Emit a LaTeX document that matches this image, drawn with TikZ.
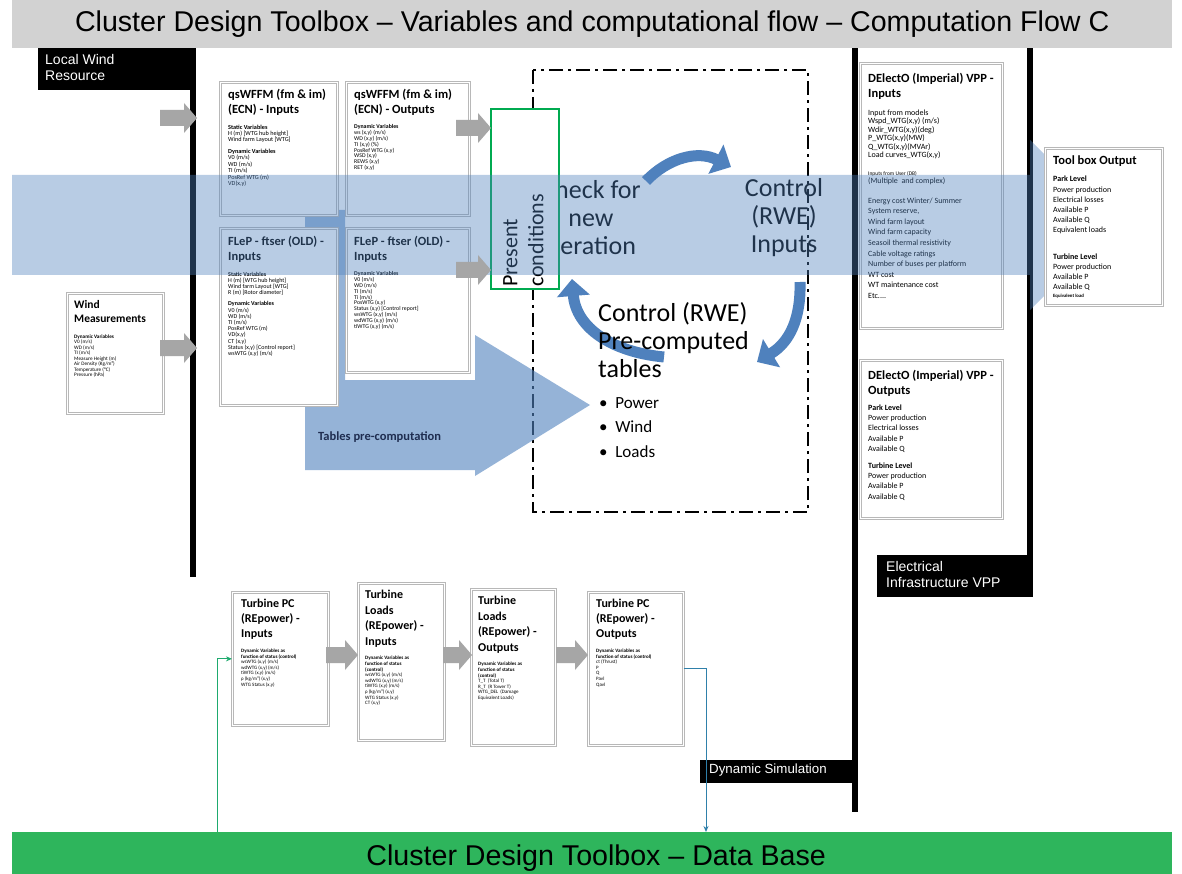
\documentclass[tikz,border=0pt]{standalone}
\usepackage{fontspec}
\setmainfont{Carlito}
\newfontfamily\arialike{Liberation Sans}
\usetikzlibrary{arrows.meta,calc}
\newcommand{\fsz}[2]{\fontsize{#1}{#2}\selectfont}
% gray block arrow: left x, centre y, length
\newcommand{\blockarrow}[3]{%
  \fill[black!35] ({#1},{#2-8}) -- ({#1+#3-13},{#2-8}) -- ({#1+#3-13},{#2-15}) -- ({#1+#3},{#2})
    -- ({#1+#3-13},{#2+15}) -- ({#1+#3-13},{#2+8}) -- ({#1},{#2+8}) -- cycle;}
\definecolor{bandblue}{RGB}{79,129,189}
\definecolor{dbgreen}{RGB}{46,181,92}
\definecolor{condgreen}{RGB}{0,170,80}
\definecolor{linkteal}{RGB}{47,128,170}
\definecolor{linkgreen}{RGB}{30,170,110}
\definecolor{bannergray}{RGB}{210,210,210}
\definecolor{navytext}{RGB}{31,45,80}
\begin{document}
\begin{tikzpicture}[x=1pt,y=-1pt,
  databox/.style={draw=black!28, double=white, double distance=1.3pt, line width=0.7pt,
                  fill=white, inner sep=0pt, anchor=north west},
  boxtitle/.style={anchor=north west, inner sep=0pt, align=left, font=\fsz{12.5}{15}\bfseries},
  boxbody/.style={anchor=north west, inner sep=0pt, align=left, font=\fsz{6.2}{6.4}},
  blacklabel/.style={fill=black, inner sep=0pt, anchor=north west},
  labeltext/.style={anchor=north west, inner sep=0pt, align=left, text=white, font=\arialike\fsz{14}{16.5}},
  bigtext/.style={inner sep=0pt, font=\fsz{26}{28}},
  curvearrow/.style={draw=bandblue, line width=11pt, -{Triangle[length=17pt,width=32pt]}},
  vline/.style={fill=black, draw=none}
]
\useasboundingbox (0,0) rectangle (1182,874);
\fill[white] (0,0) rectangle (1182,874);

% banners
\node[fill=bannergray, minimum width=1160pt, minimum height=48pt, inner sep=0pt, anchor=north west,
      font=\arialike\fsz{28.6}{32}] (topbar) at (12,0)
      {Cluster Design Toolbox – Variables and computational flow – Computation Flow C};
\node[fill=dbgreen, minimum width=1160pt, minimum height=46pt, inner sep=0pt, anchor=north west] (db) at (12,832) {};
\node[inner sep=0pt, font=\arialike\fsz{28.6}{32}] (dbtext) at ($(db.center)+(4,3)$) {Cluster Design Toolbox – Data Base};

% black separators
\fill[vline] (190,48) rectangle (196,577);
\fill[vline] (852,48) rectangle (858,812);
\fill[vline] (1027,48) rectangle (1033,597);

% black labels
\node[blacklabel, minimum width=155pt, minimum height=42pt] (lwr) at (38,48) {};
\node[labeltext] at ($(lwr.north west)+(7,6)$) {Local Wind\\Resource};
\node[blacklabel, minimum width=153pt, minimum height=42pt] (eivpp) at (877,555) {};
\node[labeltext] at ($(eivpp.north west)+(9,6)$) {Electrical\\Infrastructure VPP};
\node[blacklabel, minimum width=153pt, minimum height=23pt] (dyn) at (700,760) {};
\node[labeltext, font=\arialike\fsz{13.3}{15}] at ($(dyn.north west)+(9,4)$) {Dynamic Simulation};

% control loop frame
\draw[line width=2.5pt, dash pattern=on 14pt off 5pt on 3pt off 5pt] (533,70) rectangle (808,512);

% loop texts inside the flow band
\node[bigtext, align=center] (check) at (591,218) {Check for\\new\\iteration};
\node[bigtext, align=center] (ctlin) at (784,218) {Control\\(RWE)\\Inputs};

% present conditions
\node[draw=condgreen, line width=1.6pt, fill=white, minimum width=68pt, minimum height=180pt,
      inner sep=0pt, anchor=north west] (pres) at (490,108) {};
\node[inner sep=0pt, rotate=90, anchor=north west, align=left, font=\fsz{22}{26}] at (503,287)
   {Present\\conditions};

% tables pre-computation arrow
\fill[bandblue, opacity=0.6] (305,210) -- (345,210) -- (345,380) -- (475,380) -- (475,335)
   -- (590,405) -- (475,476) -- (475,470) -- (305,470) -- cycle;
\node[anchor=west, inner sep=0pt, font=\fsz{12.5}{14}\bfseries, text=navytext] (tpc) at (318,437)
   {Tables pre-computation};

% wind measurements
\node[databox, minimum width=96pt, minimum height=120pt] (wm) at (67,293) {};
\node[boxtitle, font=\fsz{11.5}{14}\bfseries] (wmT) at ($(wm.north west)+(7,7)$) {Wind\\Measurements};
\node[boxbody, font=\fsz{5.2}{5.5}] at ($(wmT.south west)+(0,12)$)
  {\textbf{Dynamic Variables}\\V0 (m/s)\\WD (m/s)\\TI (m/s)\\Measure Height (m)\\Air Density (Kg/m³)\\Temperature (°C)\\Pressure (hPa)};

% qsWFFM boxes
\node[databox, minimum width=117pt, minimum height=133pt] (qsin) at (220,82) {};
\node[boxtitle] (qsinT) at ($(qsin.north west)+(8,7)$) {qsWFFM (fm \& im)\\(ECN) - Inputs};
\node[boxbody] at ($(qsinT.south west)+(0,9)$)
  {\textbf{Static Variables}\\H (m) [WTG hub height]\\Wind farm Layout [WTG]\\[5pt]
   \textbf{Dynamic Variables}\\V0 (m/s)\\WD (m/s)\\TI (m/s)\\PosRef WTG (m)\\VD(x,y)};

\node[databox, minimum width=123pt, minimum height=133pt] (qsout) at (346,82) {};
\node[boxtitle] (qsoutT) at ($(qsout.north west)+(8,7)$) {qsWFFM (fm \& im)\\(ECN) - Outputs};
\node[boxbody, font=\fsz{5.8}{5.8}] at ($(qsoutT.south west)+(0,9)$)
  {\textbf{Dynamic Variables}\\ws (x,y) (m/s)\\WD (x,y) (m/s)\\TI (x,y) (\%)\\PosRef WTG (x,y)\\WSD (x,y)\\REWS (x,y)\\RET (x,y)};

% FLeP boxes
\node[databox, minimum width=117pt, minimum height=177pt] (fin) at (220,228) {};
\node[boxtitle] (finT) at ($(fin.north west)+(8,8)$) {FLeP - ftser (OLD) -\\Inputs};
\node[boxbody, font=\fsz{6}{6.2}] at ($(finT.south west)+(0,9)$)
  {\textbf{Static Variables}\\H (m) [WTG hub height]\\Wind farm Layout [WTG]\\R (m) [Rotor diameter]\\[5pt]
   \textbf{Dynamic Variables}\\V0 (m/s)\\WD (m/s)\\TI (m/s)\\PosRef WTG (m)\\VD(x,y)\\CT (x,y)\\Status (x,y) [Control report]\\wsWTG (x,y) (m/s)};

\node[databox, minimum width=123pt, minimum height=144pt] (fout) at (346,228) {};
\node[boxtitle] (foutT) at ($(fout.north west)+(8,8)$) {FLeP - ftser (OLD) -\\Inputs};
\node[boxbody, font=\fsz{5.8}{5.8}] at ($(foutT.south west)+(0,9)$)
  {\textbf{Dynamic Variables}\\V0 (m/s)\\WD (m/s)\\TI (m/s)\\Ti (m/s)\\PosWTG (x,y)\\Status (x,y) [Control report]\\wsWTG (x,y) (m/s)\\wdWTG (x,y) (m/s)\\tiWTG (x,y) (m/s)};

% DElectO boxes
\node[databox, minimum width=142pt, minimum height=265pt] (dein) at (860,63) {};
\node[boxtitle] (deinT) at ($(dein.north west)+(8,10)$) {DElectO (Imperial) VPP -\\Inputs};
\node[boxbody, font=\fsz{8}{8.5}] (deinB) at ($(deinT.south west)+(0,10)$)
  {Input from models\\Wspd\_WTG(x,y) (m/s)\\Wdir\_WTG(x,y)(deg)\\P\_WTG(x,y)(MW)\\Q\_WTG(x,y)(MVAr)\\Load curves\_WTG(x,y)\\[9pt]
   {\fsz{5.5}{6}Inputs from User (DB)}\\(Multiple \ and complex)};
\node[boxbody, font=\fsz{8}{10.6}] at ($(deinB.south west)+(0,12)$)
  {Energy cost Winter/ Summer\\System reserve,\\Wind farm layout\\Wind farm capacity\\Seasoil thermal resistivity\\Cable voltage ratings\\Number of buses per platform\\WT cost\\WT maintenance cost\\Etc....};

\node[databox, minimum width=142pt, minimum height=158pt] (deout) at (860,360) {};
\node[boxtitle] (deoutT) at ($(deout.north west)+(8,10)$) {DElectO (Imperial) VPP -\\Outputs};
\node[boxbody, font=\fsz{8}{10.2}] at ($(deoutT.south west)+(0,8)$)
  {\textbf{Park Level}\\Power production\\Electrical losses\\Available P\\Available Q\\[7pt]
   \textbf{Turbine Level}\\Power production\\Available P\\Available Q};

% big translucent flow band
\fill[bandblue, opacity=0.4] (12,175) -- (1030,175) -- (1030,140) -- (1115,225) -- (1030,310)
   -- (1030,275) -- (12,275) -- cycle;

% toolbox output
\node[databox, minimum width=117pt, minimum height=157pt] (tbo) at (1045,148) {};
\node[boxtitle] (tboT) at ($(tbo.north west)+(8,8)$) {Tool box Output};
\node[boxbody, font=\fsz{8}{10.1}] (tboB) at ($(tboT.south west)+(0,9)$)
  {\textbf{Park Level}\\Power production\\Electrical losses\\Available P\\Available Q\\Equivalent loads\\[17pt]
   \textbf{Turbine Level}\\Power production\\Available P\\Available Q};
\node[boxbody, font=\fsz{4.8}{5}] at ($(tboB.south west)+(0,3)$) {\textbf{Equivalent load}};

% loop arrows
\draw[curvearrow] (646,181) .. controls (668,158) and (698,150) .. (731,167);
\draw[curvearrow] (800,282) .. controls (801,318) and (790,342) .. (757,362);
\draw[curvearrow] (664,357) .. controls (612,352) and (576,328) .. (572,279);

% pre-computed tables text, above the loop arrows
\node[bigtext, align=left, anchor=north west] (ctlpre) at (598,302) {Control (RWE)\\Pre-computed\\tables};
\node[inner sep=0pt, align=left, anchor=north west, font=\fsz{17}{24.5}] (bul) at (599,397)
   {\textbullet\ \ Power\\\textbullet\ \ Wind\\\textbullet\ \ Loads};

% gray transfer arrows (upper area)
\blockarrow{160}{118}{37}
\blockarrow{160}{348}{37}
\blockarrow{456}{128}{35}
\blockarrow{456}{270}{35}

% turbine boxes
\node[databox, minimum width=96pt, minimum height=133pt] (tpcin) at (232,592) {};
\node[boxtitle, font=\fsz{12}{15}\bfseries] (tpcinT) at ($(tpcin.north west)+(9,7)$) {Turbine PC\\(REpower) -\\Inputs};
\node[boxbody, font=\fsz{5}{5.6}] at ($(tpcinT.south west)+(0,9)$)
  {\textbf{Dynamic Variables as}\\\textbf{function of status (control)}\\wsWTG (x,y) (m/s)\\wdWTG (x,y) (m/s)\\tiWTG (x,y) (m/s)\\ρ (kg/m³) (x,y)\\WTG Status (x,y)};

\node[databox, minimum width=86pt, minimum height=157pt] (tlin) at (358,583) {};
\node[boxtitle, font=\fsz{12}{15.5}\bfseries] (tlinT) at ($(tlin.north west)+(7,7)$) {Turbine\\Loads\\(REpower) -\\Inputs};
\node[boxbody, font=\fsz{5}{5.6}] at ($(tlinT.south west)+(0,9)$)
  {\textbf{Dynamic Variables as}\\\textbf{function of status}\\\textbf{(control)}\\wsWTG (x,y) (m/s)\\wdWTG (x,y) (m/s)\\tiWTG (x,y) (m/s)\\ρ (kg/m³) (x,y)\\WTG Status (x,y)\\CT (x,y)};

\node[databox, minimum width=84pt, minimum height=156pt] (tlout) at (471,589) {};
\node[boxtitle, font=\fsz{12}{15.5}\bfseries] (tloutT) at ($(tlout.north west)+(7,7)$) {Turbine\\Loads\\(REpower) -\\Outputs};
\node[boxbody, font=\fsz{5}{5.6}] at ($(tloutT.south west)+(0,9)$)
  {\textbf{Dynamic Variables as}\\\textbf{function of status}\\\textbf{(control)}\\T\_T \ (Total T)\\R\_T \ (R Tower T)\\WTG\_DEL \ (Damage\\Equivalent Loads)};

\node[databox, minimum width=95pt, minimum height=153pt] (tpcout) at (588,592) {};
\node[boxtitle, font=\fsz{12}{15}\bfseries] (tpcoutT) at ($(tpcout.north west)+(8,7)$) {Turbine PC\\(REpower) -\\Outputs};
\node[boxbody, font=\fsz{5}{5.6}] at ($(tpcoutT.south west)+(0,9)$)
  {\textbf{Dynamic Variables as}\\\textbf{function of status (control)}\\ct (Thrust)\\P\\Q\\Pavl\\Qavl};

% gray transfer arrows (turbine chain)
\blockarrow{326}{655}{32}
\blockarrow{443}{655}{29}
\blockarrow{556}{655}{32}

% data base links
\coordinate (dbout) at (217,832);
\coordinate (dbin) at (706,832);
\draw[linkgreen, line width=1pt, -{Stealth[length=6pt,width=5pt]}] (dbout) |- (tpcin.west);
\draw[linkteal, line width=1pt, -{Stealth[length=6pt,width=5pt]}] (tpcout.east) -| (dbin);
\end{tikzpicture}
\end{document}
